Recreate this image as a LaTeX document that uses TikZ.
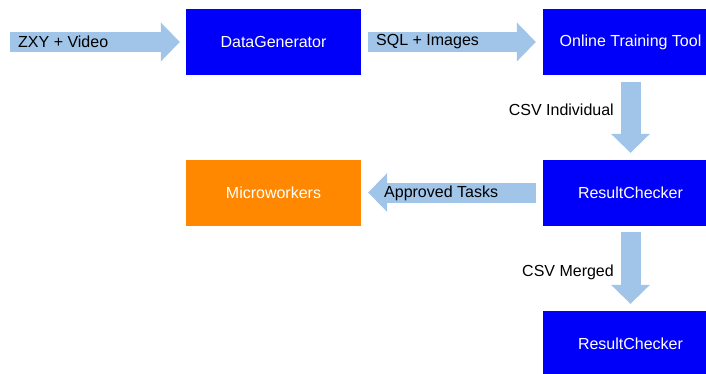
\documentclass[tikz,border=0pt]{standalone}
\usepackage{fontspec}
\setmainfont{Liberation Sans}
\usetikzlibrary{arrows.meta}
\definecolor{boxblue}{RGB}{0,0,250}
\definecolor{arrblue}{RGB}{160,197,232}
\definecolor{orng}{RGB}{255,136,0}
\begin{document}
\begin{tikzpicture}[x=1pt,y=-1pt,
  font=\fontsize{16}{19}\selectfont,
  box/.style={minimum width=175pt, minimum height=66pt, inner sep=0pt, fill=boxblue, text=white},
  obox/.style={box, fill=orng},
  flow/.style={draw=arrblue, line width=20pt, line cap=butt,
    -{Triangle[width=39pt,length=19pt,line width=0pt]}},
  lbl/.style={inner sep=0pt, text=black}]
\useasboundingbox (0,0) rectangle (706,373);
\clip (0,0) rectangle (706,373);
\node[box] (gen) at (273.5,42) {DataGenerator};
\node[box] (ott) at (630.5,42) {Online Training Tool};
\node[box] (rc1) at (630.5,192.5) {ResultChecker};
\node[obox] (mw) at (273.5,192.5) {Microworkers};
\node[box] (rc2) at (630.5,344) {ResultChecker};
\coordinate (in) at (10,42);
\draw[flow, shorten >=6pt] (in) -- (gen.west);
\draw[flow, shorten <=7pt, shorten >=7pt] (gen.east) -- (ott.west);
\draw[flow, shorten <=7pt, shorten >=6.5pt] (ott.south) -- (rc1.north);
\draw[flow, shorten <=7pt, shorten >=7pt] (rc1.west) -- (mw.east);
\draw[flow, shorten <=6.5pt, shorten >=7pt] (rc1.south) -- (rc2.north);
\node[lbl, anchor=west] (l1) at (18,42) {ZXY + Video};
\node[lbl, anchor=west] (l2) at (376,42) {SQL + Images};
\node[lbl, anchor=east] (l3) at (614,110) {CSV Individual};
\node[lbl, anchor=west] (l4) at (384,193) {Approved Tasks};
\node[lbl, anchor=east] (l5) at (614,272) {CSV Merged};
\end{tikzpicture}
\end{document}
